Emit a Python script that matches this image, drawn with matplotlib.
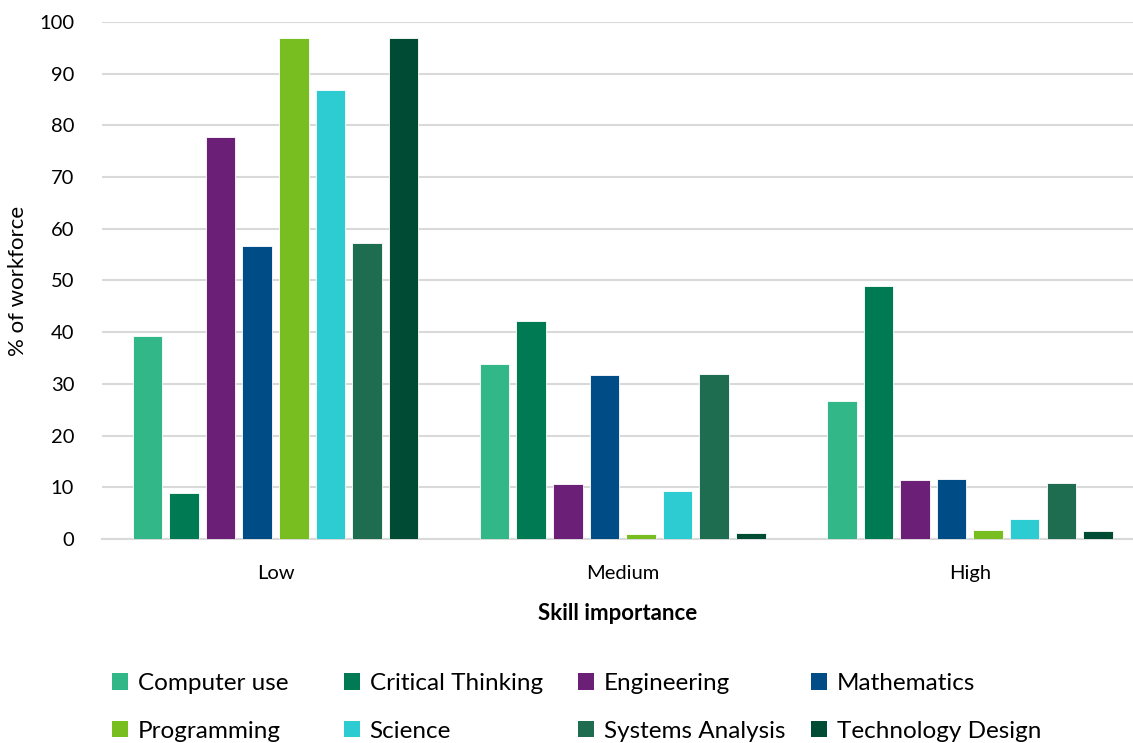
import matplotlib.pyplot as plt
import numpy as np
from matplotlib.patches import Patch

# data
categories = ['Low', 'Medium', 'High']
skills = ['Computer use', 'Critical Thinking', 'Engineering', 'Mathematics',
          'Programming', 'Science', 'Systems Analysis', 'Technology Design']
colors = ['#32B888', '#007A53', '#6C1F77', '#004C87',
          '#78BE21', '#2DCCD3', '#1E6D50', '#004B33']

computer_use = [39.3, 33.9, 26.6]
critical_thinking = [8.9, 42.1, 49.0]
engineering = [77.8, 10.7, 11.4]
mathematics = [56.6, 31.7, 11.6]
programming = [97.0, 1.0, 1.8]
science = [86.9, 9.2, 3.8]
systems_analysis = [57.2, 31.9, 10.8]
technology_design = [97.0, 1.2, 1.6]

series = [computer_use, critical_thinking, engineering, mathematics,
          programming, science, systems_analysis, technology_design]

plt.rcParams['font.family'] = ['Lato', 'DejaVu Sans']

fig = plt.figure(figsize=(11.33, 7.43), dpi=100)
ax = fig.add_axes([0.09, 0.2746, 0.91, 0.6958])

x = np.arange(len(categories))
step = 0.1054
width = 0.085
for i, (vals, col) in enumerate(zip(series, colors)):
    offset = (i - 3.5) * step
    ax.bar(x + offset, vals, width, color=col, edgecolor='white',
           linewidth=0.6, label=skills[i], zorder=3)

ax.set_xlim(-0.5, 2.47)
ax.set_ylim(0, 100)
ax.set_yticks(range(0, 101, 10))
ax.set_xticks(x)
ax.set_xticklabels(categories)
ax.tick_params(axis='both', length=0, labelsize=14.5, colors='#000000')
ax.tick_params(axis='y', pad=20)
ax.tick_params(axis='x', pad=19)
ax.grid(axis='y', color='#D9D9D9', linewidth=1.5, zorder=0)
for s in ['top', 'right', 'left']:
    ax.spines[s].set_visible(False)
ax.spines['bottom'].set_color('#D9D9D9')
ax.spines['bottom'].set_linewidth(1.5)

ax.set_ylabel('% of workforce', fontsize=16, labelpad=8)
ax.set_xlabel('Skill importance', fontsize=16, fontweight='bold', labelpad=15)

# legend: 4 columns with fixed spacing, as in the original
col_x = [112, 344, 578, 811]
for c in range(4):
    handles = [Patch(facecolor=colors[c], edgecolor='none'),
               Patch(facecolor=colors[c + 4], edgecolor='none')]
    labels = [skills[c], skills[c + 4]]
    fig.legend(handles, labels, loc='upper left',
               bbox_to_anchor=(col_x[c] / 1133, 1 - 673 / 743),
               frameon=False, fontsize=17.5, handlelength=0.65,
               handleheight=0.65, handletextpad=0.4, labelspacing=1.1,
               borderaxespad=0, borderpad=0)

fig.savefig('out.png', dpi=100)
